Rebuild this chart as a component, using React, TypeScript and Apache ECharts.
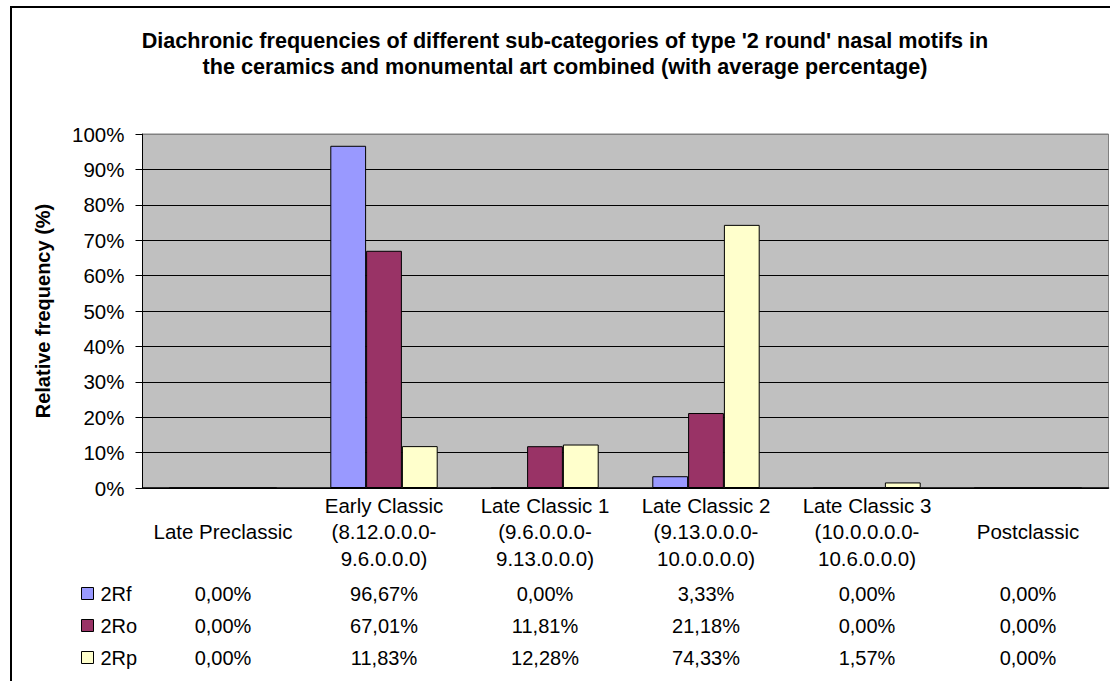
import React, { useEffect, useRef } from "react";
import * as echarts from "echarts";

const categories = [
  "Late Preclassic",
  "Early Classic\n(8.12.0.0.0-\n9.6.0.0.0)",
  "Late Classic 1\n(9.6.0.0.0-\n9.13.0.0.0)",
  "Late Classic 2\n(9.13.0.0.0-\n10.0.0.0.0)",
  "Late Classic 3\n(10.0.0.0.0-\n10.6.0.0.0)",
  "Postclassic",
];
const seriesNames = ["2Rf", "2Ro", "2Rp"];
const values2Rf = [0, 96.67, 0, 3.33, 0, 0];
const values2Ro = [0, 67.01, 11.81, 21.18, 0, 0];
const values2Rp = [0, 11.83, 12.28, 74.33, 1.57, 0];
const seriesColors = ["#9999FF", "#993366", "#FFFFCC"];
const yTicks = [0, 10, 20, 30, 40, 50, 60, 70, 80, 90, 100];

const titleText =
  "Diachronic frequencies of different sub-categories of type '2 round' nasal motifs in\nthe ceramics and monumental art combined (with average percentage)";
const yAxisTitle = "Relative frequency (%)";

const FONT = "Arial, 'Liberation Sans', sans-serif";

const fmt = (v: number) => v.toFixed(2).replace(".", ",") + "%";

export default function App() {
  const ref = useRef<HTMLDivElement>(null);
  useEffect(() => {
    document.body.style.margin = "0";
    if (!ref.current) return;
    const chart = echarts.init(ref.current, null, { renderer: "svg" });
    const allSeries = [values2Rf, values2Ro, values2Rp];
    const tableMargins = [106, 138, 170];
    const tableAxes = allSeries.map((vals, i) => ({
      type: "category",
      gridIndex: 0,
      position: "bottom",
      offset: 0,
      data: vals.map(fmt),
      axisLine: { show: false },
      axisTick: { show: false },
      splitLine: { show: false },
      axisLabel: {
        interval: 0,
        margin: tableMargins[i],
        verticalAlign: "middle",
        fontSize: 20,
        fontFamily: FONT,
        color: "#000",
      },
    }));
    const splitColors = yTicks.map((t) => (t === 100 ? "#808080" : "#000"));
    chart.setOption({
      animation: false,
      backgroundColor: "#fff",
      title: {
        text: titleText,
        left: 565,
        top: 27,
        padding: 0,
        textAlign: "center",
        textStyle: {
          fontFamily: FONT,
          fontSize: 21.6,
          fontWeight: "bold",
          color: "#000",
          lineHeight: 26.5,
        },
      },
      graphic: [
        {
          type: "rect",
          shape: { x: 11, y: 7, width: 1300, height: 900 },
          style: { fill: "none", stroke: "#000", lineWidth: 2 },
          silent: true,
        },
      ],
      legend: {
        orient: "vertical",
        left: 81,
        top: 583.5,
        padding: 0,
        itemWidth: 12,
        itemHeight: 12,
        itemGap: 12,
        icon: "rect",
        data: seriesNames,
        itemStyle: { borderColor: "#000", borderWidth: 1 },
        textStyle: {
          fontFamily: FONT,
          fontSize: 20,
          color: "#000",
          lineHeight: 20,
          padding: [0, 0, 0, 2],
        },
      },
      grid: {
        left: 142.5,
        right: 1.5,
        top: 134,
        bottom: 193,
        show: true,
        backgroundColor: "#C0C0C0",
        borderColor: "#808080",
        borderWidth: 1,
        containLabel: false,
      },
      xAxis: [
        {
          type: "category",
          gridIndex: 0,
          position: "bottom",
          data: categories,
          axisLine: { show: true, lineStyle: { color: "#000", width: 1.5 } },
          axisTick: { show: false },
          axisLabel: {
            interval: 0,
            margin: 43.5,
            verticalAlign: "middle",
            fontSize: 20.5,
            lineHeight: 26.5,
            fontFamily: FONT,
            color: "#000",
          },
        },
        ...tableAxes,
      ],
      yAxis: {
        type: "value",
        min: 0,
        max: 100,
        interval: 10,
        name: yAxisTitle,
        nameLocation: "middle",
        nameGap: 90,
        nameRotate: 90,
        nameTextStyle: {
          fontFamily: FONT,
          fontSize: 20,
          fontWeight: "bold",
          color: "#000",
        },
        axisLine: { show: true, lineStyle: { color: "#000", width: 1 } },
        axisTick: { show: true, length: 7, lineStyle: { color: "#000" } },
        axisLabel: {
          formatter: "{value}%",
          margin: 18,
          fontSize: 20.5,
          fontFamily: FONT,
          color: "#000",
        },
        splitLine: { show: true, lineStyle: { color: splitColors, width: 1 } },
      },
      series: allSeries.map((vals, i) => ({
        name: seriesNames[i],
        type: "bar",
        xAxisIndex: 0,
        yAxisIndex: 0,
        data: vals,
        barGap: "0%",
        barCategoryGap: "33.3%",
        itemStyle: { color: seriesColors[i], borderColor: "#000", borderWidth: 1 },
      })),
    });
    return () => chart.dispose();
  }, []);
  return <div ref={ref} style={{ width: 1110, height: 681 }} />;
}
